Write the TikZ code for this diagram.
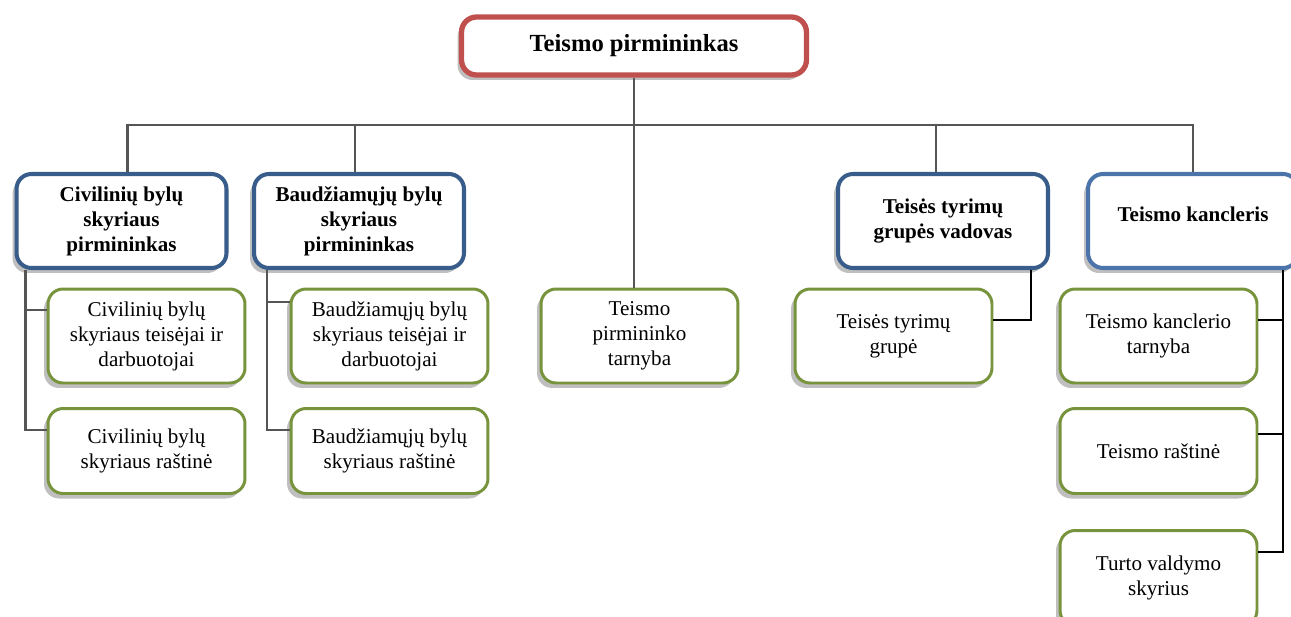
\documentclass[tikz,border=0pt]{standalone}
\usepackage{fontspec}
\setmainfont{Liberation Serif}
\usetikzlibrary{positioning, calc, shadows}

\definecolor{raudona}{HTML}{C0504D}
\definecolor{melyna}{HTML}{385D8A}
\definecolor{sviesmelyna}{HTML}{4A74AA}
\definecolor{zalia}{HTML}{77933C}
\definecolor{pilka}{HTML}{555555}

\begin{document}
\begin{tikzpicture}[x=0.02cm, y=-0.02cm, thick]
        \tikzset{
            % Define shadow under boxes
            seselis/.style={
                    drop shadow={shadow xshift=-0.08cm, shadow yshift=-0.1cm,
                                 opacity=0.25, fill=black}},
            % Define style for the head box
            virsus/.style={
                    rectangle,
                    rounded corners=0.3cm,
                    draw=raudona, line width=3pt,
                    fill=white,
                    minimum width=6.9cm,
                    minimum height=1.16cm,
                    align=center,
                    font=\fontsize{14}{17}\selectfont\bfseries,
                    seselis},
            % Define style for department heads
            skyrius/.style={
                    rectangle,
                    rounded corners=0.3cm,
                    draw=melyna, line width=2.3pt,
                    fill=white,
                    minimum width=4.2cm,
                    minimum height=1.88cm,
                    align=center,
                    font=\fontsize{12}{14.2}\selectfont\bfseries,
                    seselis},
            % Define style for units
            padalinys/.style={
                    rectangle,
                    rounded corners=0.3cm,
                    draw=zalia, line width=1.7pt,
                    fill=white,
                    minimum width=3.94cm,
                    minimum height=1.88cm,
                    align=center,
                    font=\fontsize{12}{14.2}\selectfont,
                    seselis},
            % Define line styles
            linija/.style={draw=pilka, line width=1.5pt},
            plona/.style={draw=black, line width=1.1pt},
        }
        \useasboundingbox (0,0) rectangle (1291,616);

        % Draw the head
        \node[virsus] (top) at (634,46) {Teismo pirmininkas};

        % Draw the department heads
        \node[skyrius] (civ) at (121.5,221) {Civilinių bylų\\skyriaus\\pirmininkas};
        \node[skyrius] (baud) at (359,221) {Baudžiamųjų bylų\\skyriaus\\pirmininkas};
        \node[skyrius] (ten) at (943,221) {Teisės tyrimų\\grupės vadovas};
        \node[skyrius, draw=sviesmelyna, text depth=0.28cm] (kan) at (1193,221) {Teismo kancleris};

        % Draw the units
        \node[padalinys] (civ1) at (146.5,336) {Civilinių bylų\\skyriaus teisėjai ir\\darbuotojai};
        \node[padalinys, minimum height=1.7cm] (civ2) at (146.5,451) {Civilinių bylų\\skyriaus raštinė};
        \node[padalinys] (baud1) at (389.5,336) {Baudžiamųjų bylų\\skyriaus teisėjai ir\\darbuotojai};
        \node[padalinys, minimum height=1.7cm] (baud2) at (389.5,451) {Baudžiamųjų bylų\\skyriaus raštinė};
        \node[padalinys] (mid) at (639.5,336) {Teismo\\pirmininko\\tarnyba};
        \node[padalinys] (grp) at (893.5,336) {Teisės tyrimų\\grupė};
        \node[padalinys] (kt) at (1158.5,336) {Teismo kanclerio\\tarnyba};
        \node[padalinys, minimum height=1.7cm] (kr) at (1158.5,451) {Teismo raštinė};
        \node[padalinys, minimum height=1.9cm] (tv) at (1158.5,578) {Turto valdymo\\skyrius};

        % Connect the head with the departments
        \coordinate (bus) at (634,125);
        \draw[linija] (top) -- (top |- mid.north);
        \draw[linija] ($(civ.north)+(6,0)$) |- (bus) -| (kan);
        \draw[linija] ($(baud.north)+(-4,0)$) -- ($(baud.north |- bus)+(-4,0)$);
        \draw[linija] ($(ten.north)+(-7,0)$) -- ($(ten.north |- bus)+(-7,0)$);

        % Connect the departments with their units
        \draw[linija] ($(civ.south west)+(11,0)$) |- ($(civ1.west)+(0,-26)$);
        \draw[linija] ($(civ.south west)+(11,0)$) |- ($(civ2.west)+(0,-21)$);
        \draw[linija] ($(baud.south west)+(15,0)$) |- ($(baud1.west)+(0,-34)$);
        \draw[linija] ($(baud.south west)+(15,0)$) |- ($(baud2.west)+(0,-21)$);
        \draw[plona] ($(ten.south east)+(-19,0)$) |- ($(grp.east)+(0,-16)$);
        \draw[plona] ($(kan.south)+(90,0)$) |- ($(kt.east)+(0,-16)$);
        \draw[plona] ($(kan.south)+(90,0)$) |- ($(kr.east)+(0,-17)$);
        \draw[plona] ($(kan.south)+(90,0)$) |- ($(tv.east)+(0,-26)$);

    \end{tikzpicture}
\end{document}
